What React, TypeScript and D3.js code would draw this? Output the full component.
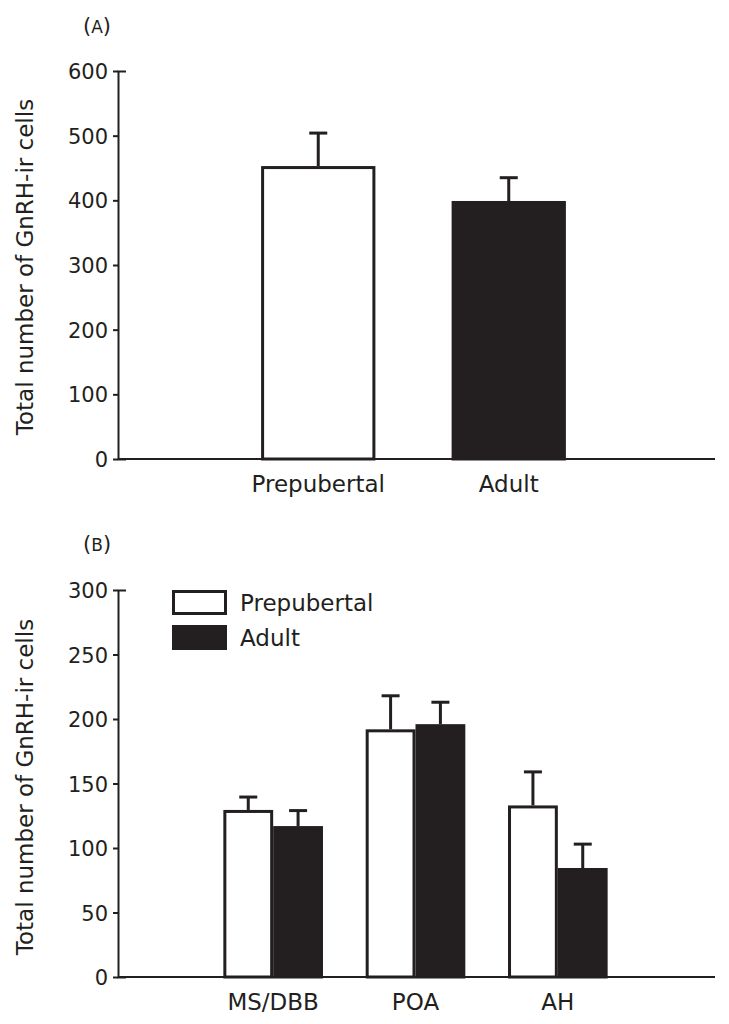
import React, { useEffect, useRef } from "react";
import * as d3 from "d3";

const groupsA = ["Prepubertal", "Adult"];
const meansA = [453, 399];
const semA = [51, 36];
const ticksA = [0, 100, 200, 300, 400, 500, 600];

const regionsB = ["MS/DBB", "POA", "AH"];
const seriesB = ["Prepubertal", "Adult"];
const prepMeansB = [129.5, 192, 133];
const prepSemB = [10, 26, 26];
const adultMeansB = [117, 196, 84.5];
const adultSemB = [12, 17, 18.5];
const ticksB = [0, 50, 100, 150, 200, 250, 300];

const yLabel = "Total number of GnRH-ir cells";
const INK = "#231f20";
const FONT = "DejaVu Sans, Verdana, sans-serif";

export default function App() {
  const ref = useRef<SVGSVGElement>(null);

  useEffect(() => {
    const svg = d3.select(ref.current);
    svg.selectAll("*").remove();

    const axisX0 = 118;
    const axisX1 = 715;

    function drawYAxis(y: d3.ScaleLinear<number, number>, ticks: number[]) {
      const g = svg.append("g").attr("transform", `translate(${axisX0},0)`);
      g.call(
        d3
          .axisLeft(y)
          .tickValues(ticks)
          .tickSize(5)
          .tickSizeOuter(-8)
          .tickPadding(5)
          .tickFormat(d3.format("d"))
      );
      g.select(".domain").attr("stroke", INK).attr("stroke-width", 2);
      g.selectAll(".tick line").attr("stroke", INK).attr("stroke-width", 2);
      g.selectAll(".tick text")
        .attr("fill", INK)
        .attr("font-family", FONT)
        .attr("font-size", 21)
        .attr("dy", "0.36em");
    }

    function drawXAxisLine(y0: number) {
      svg
        .append("line")
        .attr("x1", axisX0)
        .attr("x2", axisX1)
        .attr("y1", y0)
        .attr("y2", y0)
        .attr("stroke", INK)
        .attr("stroke-width", 2);
    }

    function drawYLabel(cy: number) {
      svg
        .append("text")
        .attr("transform", `translate(33,${cy}) rotate(-90)`)
        .attr("text-anchor", "middle")
        .attr("font-family", FONT)
        .attr("font-size", 23)
        .attr("fill", INK)
        .text(yLabel);
    }

    function drawPanelTag(x: number, y: number, letter: string) {
      const t = svg
        .append("text")
        .attr("x", x)
        .attr("y", y)
        .attr("font-family", FONT)
        .attr("font-size", 21)
        .attr("fill", INK);
      t.append("tspan").text("(");
      t.append("tspan").attr("font-size", 17).text(letter);
      t.append("tspan").text(")");
    }

    function errorBar(cx: number, yTop: number, yEnd: number) {
      svg
        .append("line")
        .attr("x1", cx)
        .attr("x2", cx)
        .attr("y1", yTop)
        .attr("y2", yEnd)
        .attr("stroke", INK)
        .attr("stroke-width", 3);
      svg
        .append("line")
        .attr("x1", cx - 9)
        .attr("x2", cx + 9)
        .attr("y1", yEnd)
        .attr("y2", yEnd)
        .attr("stroke", INK)
        .attr("stroke-width", 3);
    }

    function bar(x: number, w: number, yTop: number, yBase: number, filled: boolean) {
      svg
        .append("rect")
        .attr("x", x + 1.5)
        .attr("y", yTop + 1.5)
        .attr("width", w - 3)
        .attr("height", yBase - yTop - 1.5)
        .attr("fill", filled ? INK : "#fff")
        .attr("stroke", INK)
        .attr("stroke-width", 3);
    }

    // ---------- Panel A ----------
    const yA = d3.scaleLinear().domain([0, 600]).range([459, 71]);
    const xA = d3
      .scaleBand<string>()
      .domain(groupsA)
      .range([223, 604])
      .paddingInner(0.4)
      .paddingOuter(0.2);

    drawPanelTag(83, 33, "A");
    groupsA.forEach((g, i) => {
      const x = xA(g)!;
      const w = xA.bandwidth();
      errorBar(x + w / 2, yA(meansA[i]), yA(meansA[i] + semA[i]));
      bar(x, w, yA(meansA[i]), yA(0), i === 1);
    });
    drawXAxisLine(yA(0));
    drawYAxis(yA, ticksA);
    drawYLabel(267);
    groupsA.forEach((g) => {
      svg
        .append("text")
        .attr("x", xA(g)! + xA.bandwidth() / 2)
        .attr("y", yA(0) + 33)
        .attr("text-anchor", "middle")
        .attr("font-family", FONT)
        .attr("font-size", 23)
        .attr("fill", INK)
        .text(g);
    });

    // ---------- Panel B ----------
    const yB = d3.scaleLinear().domain([0, 300]).range([977, 590]);
    const xB = d3
      .scaleBand<string>()
      .domain(regionsB)
      .range([202, 629])
      .paddingInner(0.3)
      .paddingOuter(0.15);
    const xSub = d3.scaleBand<string>().domain(seriesB).range([0, xB.bandwidth()]);

    drawPanelTag(83, 551, "B");
    const meansB = [prepMeansB, adultMeansB];
    const semsB = [prepSemB, adultSemB];
    regionsB.forEach((r, ri) => {
      seriesB.forEach((s, si) => {
        const x = xB(r)! + xSub(s)!;
        const w = xSub.bandwidth();
        const m = meansB[si][ri];
        const e = semsB[si][ri];
        errorBar(x + w / 2, yB(m), yB(m + e));
      });
      seriesB.forEach((s, si) => {
        const x = xB(r)! + xSub(s)!;
        const w = xSub.bandwidth();
        const m = meansB[si][ri];
        bar(x, w, yB(m), yB(0), si === 1);
      });
    });
    drawXAxisLine(yB(0));
    drawYAxis(yB, ticksB);
    drawYLabel(787);
    regionsB.forEach((r) => {
      svg
        .append("text")
        .attr("x", xB(r)! + xB.bandwidth() / 2)
        .attr("y", yB(0) + 33)
        .attr("text-anchor", "middle")
        .attr("font-family", FONT)
        .attr("font-size", 23)
        .attr("fill", INK)
        .text(r);
    });

    // legend
    const legendY = [590, 625];
    seriesB.forEach((s, i) => {
      svg
        .append("rect")
        .attr("x", 173.5)
        .attr("y", legendY[i] + 1.5)
        .attr("width", 52)
        .attr("height", 22)
        .attr("fill", i === 1 ? INK : "#fff")
        .attr("stroke", INK)
        .attr("stroke-width", 3);
      svg
        .append("text")
        .attr("x", 240)
        .attr("y", legendY[i] + 21)
        .attr("font-family", FONT)
        .attr("font-size", 23)
        .attr("fill", INK)
        .text(s);
    });
  }, []);

  return (
    <svg
      ref={ref}
      width={729}
      height={1024}
      style={{ position: "absolute", left: 0, top: 0, background: "#fff" }}
    />
  );
}
